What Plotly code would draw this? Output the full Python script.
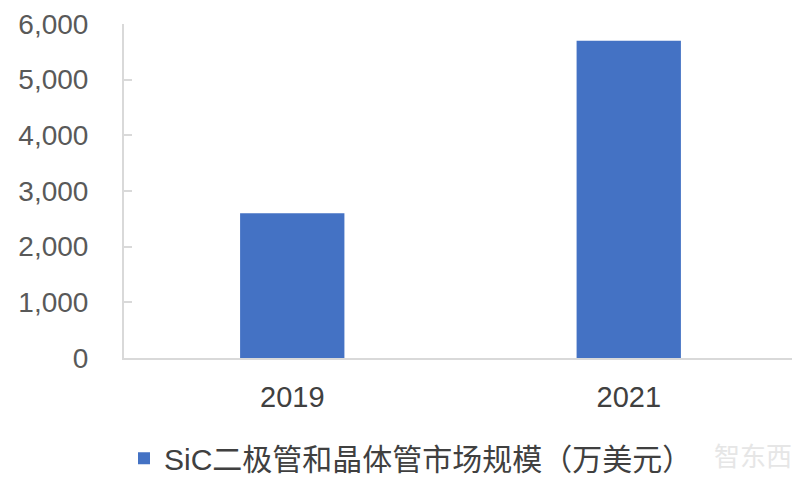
import plotly.graph_objects as go

categories = ["2019", "2021"]
values = [2600, 5700]
series_name = "SiC二极管和晶体管市场规模（万美元）"
y_ticks = [0, 1000, 2000, 3000, 4000, 5000, 6000]

fig = go.Figure()
fig.add_trace(go.Bar(
    x=categories, y=values, name=series_name,
    marker=dict(color="#4472C4", line=dict(width=0)),
    showlegend=True,
))

fig.update_layout(
    width=800, height=480,
    margin=dict(l=116, r=11, t=16, b=130, autoexpand=False),
    paper_bgcolor="white", plot_bgcolor="white",
    bargap=0.69,
    font=dict(family="Liberation Sans, Arial, Noto Sans CJK SC", color="#595959", size=27),
    showlegend=True,
    legend=dict(
        orientation="h", x=0.0, y=-0.3, xanchor="left", yanchor="middle",
        font=dict(size=30, family="Liberation Sans, Noto Sans CJK SC", color="#404040"),
        itemwidth=30,
    ),
)
fig.update_xaxes(
    type="category", showline=True, linecolor="#d9d9d9", linewidth=2,
    ticks="", showgrid=False, ticklabelstandoff=12, automargin=False,
    tickfont=dict(size=29, color="#404040"),
)
fig.update_yaxes(
    range=[0, 6000], tickvals=y_ticks, tickformat=",d",
    showline=True, linecolor="#d9d9d9", linewidth=2,
    ticks="inside", ticklen=8, tickcolor="#d9d9d9", tickwidth=2,
    showgrid=False, zeroline=False, ticklabelstandoff=28, automargin=False,
    ticklabeloverflow="allow",
    tickfont=dict(size=28, color="#595959"),
)
fig.add_annotation(
    text="智东西", xref="paper", yref="paper", x=0.995, y=-0.29,
    xanchor="right", yanchor="middle", showarrow=False,
    font=dict(size=26, color="#e6e6e6", family="Noto Sans CJK SC"),
)
fig.write_html("out.html")
